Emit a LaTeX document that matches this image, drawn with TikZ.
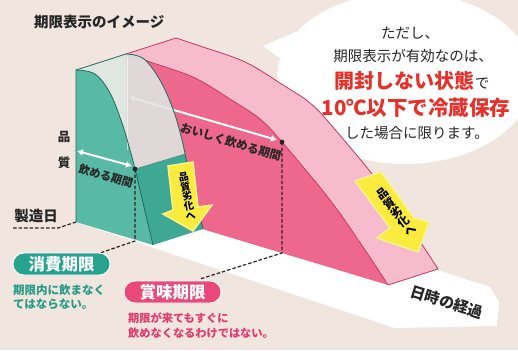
\documentclass[tikz,border=0pt]{standalone}
\usepackage{fontspec}
\newfontfamily\jp{Noto Sans CJK JP}
\usetikzlibrary{arrows.meta}
\newcommand\fsz[1]{\jp\fontsize{#1}{#1}\selectfont}
\definecolor{bg}{RGB}{240,230,223}
\definecolor{tealF}{RGB}{88,186,164}
\definecolor{tealS}{RGB}{62,168,148}
\definecolor{tealD}{RGB}{30,105,92}
\definecolor{tealT}{RGB}{222,231,227}
\definecolor{pinkF}{RGB}{237,104,140}
\definecolor{pinkT}{RGB}{246,188,205}
\definecolor{pinkD}{RGB}{200,55,95}
\definecolor{pillA}{RGB}{38,162,142}
\definecolor{pillB}{RGB}{233,72,122}
\definecolor{yel}{RGB}{249,236,62}
\definecolor{redT}{RGB}{232,48,42}
\definecolor{ink}{RGB}{38,38,38}
\definecolor{tealtxt}{RGB}{40,155,135}
\definecolor{pinktxt}{RGB}{228,58,112}
\begin{document}
\begin{tikzpicture}[x=1pt,y=-1pt,
  txt/.style={inner sep=0pt,text=ink},
  pill/.style={rounded corners=11pt,minimum width=97pt,minimum height=22pt,inner sep=0pt,text=white,font=\fsz{16.5}\bfseries},
  dash line/.style={draw=ink,line width=1.2pt,dash pattern=on 3.5pt off 2pt},
  wharrow/.style={draw=white,line width=2pt,{Latex[length=6pt,width=7pt]}-{Latex[length=6pt,width=7pt]}},
  dotmark/.style={fill=ink}]
\useasboundingbox (0,0) rectangle (518,350);
\fill[bg] (0,0) rectangle (518,350);
% speech bubble
\fill[white] (405,78) ellipse [x radius=128pt, y radius=86pt];
\fill[white] (263,46) -- (312,25) -- (302,74) -- cycle;
% ground strip (time axis)
\fill[white] (76,222) -- (395,328) -- (497,326) -- (499,302) -- (490,287) -- (437,270) -- (126,206) -- cycle;
% pink solid
\fill[pinkF] plot[smooth,tension=0.6] coordinates {(126,54) (150,62) (195,78) (233,101) (260,119) (282,142) (330,200) (363,247) (388,285)} -- (126,206) -- cycle;
\fill[pinkT] (126,54) -- (176,38) -- plot[smooth,tension=0.6] coordinates {(176,38) (200,46) (245,62) (283,85) (310,103) (332,126) (380,184) (413,231) (438,269)} -- (388,285) -- plot[smooth,tension=0.6] coordinates {(388,285) (363,247) (330,200) (282,142) (260,119) (233,101) (195,78) (150,62) (126,54)} -- cycle;
\draw[pinkD,line width=0.8pt] plot[smooth,tension=0.6] coordinates {(126,54) (150,62) (195,78) (233,101) (260,119) (282,142) (330,200) (363,247) (388,285)};
\draw[pinkD,line width=0.8pt] (126,54) -- (176,38) -- plot[smooth,tension=0.6] coordinates {(176,38) (200,46) (245,62) (283,85) (310,103) (332,126) (380,184) (413,231) (438,269)} -- (388,285);
% pink arrow
\coordinate (pa1) at (129,97);
\coordinate (pa2) at (277,140);
\draw[wharrow] (pa1) -- (pa2);
% teal solid
\fill[tealF] plot[smooth,tension=0.6] coordinates {(76,70) (95,74) (110,93) (122,123) (130,150) (135,169) (144,207) (153,245)} -- (76,222) -- cycle;
\fill[tealS] (135,169) -- (144,207) -- (153,245) -- (203,229) -- (194,192) -- (185,154) -- cycle;
\fill[tealT,opacity=0.88] plot[smooth,tension=0.6] coordinates {(76,70) (95,74) (110,93) (122,123) (130,150) (135,169)} -- (185,154) -- plot[smooth,tension=0.6] coordinates {(185,154) (182,140) (174,112) (161,82) (144,59) (126,54)} -- cycle;
\draw[white,opacity=0.6,line width=0.8pt] (127,56) -- (127,150);
\draw[tealD,line width=0.8pt] (76,222) -- (76,70) -- (126,54) plot[smooth,tension=0.6] coordinates {(126,54) (144,59) (161,82) (174,112) (182,140) (185,154)} -- (194,192) -- (203,229);
\draw[tealD,line width=0.8pt] plot[smooth,tension=0.6] coordinates {(76,70) (95,74) (110,93) (122,123) (130,150) (135,169) (144,207) (153,245)};
\draw[tealS!80!black,line width=0.4pt] (135,169) -- (185,154);
% teal arrow
\coordinate (ta1) at (77,151);
\coordinate (ta2) at (132,166);
\draw[wharrow] (ta1) -- (ta2);
% texts on faces
\node[txt,rotate=-16.5,font=\fsz{11.2}\bfseries] (tn1) at (106,176) {飲める期間};
\node[txt,rotate=-16.5,font=\fsz{11.6}\bfseries] (tn2) at (231,142) {おいしく飲める期間};
% yellow arrows
\fill[yel,draw=yel!60!white,line width=1.5pt] (168,166) -- (193,162) -- (198,207) -- (212,205) -- (193,231) -- (163,214) -- (173,210) -- cycle;
\node[txt,rotate=10,align=center,font=\fsz{10}\bfseries,text=black] (y1) at (187,196) {\fontsize{10}{12}\selectfont 品\\質\\劣\\化\\へ};
\fill[yel,draw=yel!60!white,line width=1.5pt] (355,181) -- (381,172) -- (414,218) -- (429,222) -- (418,252) -- (377,238) -- (390,228) -- cycle;
\node[txt,rotate=37,align=center,font=\fsz{11.5}\bfseries,text=black] (y2) at (396,212) {\fontsize{11.5}{14}\selectfont 品\\質\\劣\\化\\へ};
% dots and dashed lines
\coordinate (d1) at (135,169);
\coordinate (d1b) at (135,241);
\coordinate (e1) at (100,253);
\coordinate (d2) at (282,142);
\coordinate (d2b) at (282,253);
\coordinate (e2) at (200,279);
\coordinate (m0) at (76,222);
\coordinate (m1) at (58,228);
\coordinate (m2) at (13,228);
\draw[dash line] (d1) -- (d1b) -- (e1);
\draw[dash line] (d2) -- (d2b) -- (e2);
\draw[dash line] (m2) -- (m1) -- (m0);
\fill[dotmark] (d1) circle (2.4pt);
\fill[dotmark] (d2) circle (2.4pt);
% axis labels
\node[txt,rotate=-17,font=\fsz{15}\bfseries] (time) at (447,302) {日時の経過};
\node[txt,font=\fsz{12.5}\bfseries] (q1) at (64,137) {品};
\node[txt,font=\fsz{12.5}\bfseries] (q2) at (64,163) {質};
\node[txt,font=\fsz{14.5}\bfseries] (mfg) at (36,216) {製造日};
% title
\node[txt,anchor=west,font=\fsz{14.5}\bfseries] (title) at (34,22) {期限表示のイメージ};
% bubble text
\node[txt,font=\fsz{14.5}] (b1) at (410,33) {ただし、};
\node[txt,font=\fsz{14.5}] (b2) at (413,56) {期限表示が有効なのは、};
\node[txt,font=\fsz{14.5}] (b3) at (412,81) {{\color{redT}\fontsize{20}{20}\selectfont\bfseries 開封しない状態}で};
\node[txt,font=\fsz{20.5}\bfseries,text=redT] (b4) at (416,108) {10℃以下で冷蔵保存};
\node[txt,font=\fsz{14.5}] (b5) at (417,133) {した場合に限ります。};
% labels
\node[pill,fill=pillA,draw=white,line width=0.8pt] (L1) at (61.5,264) {消費期限};
\node[pill,fill=pillB,draw=white,line width=0.8pt] (L2) at (172.5,292) {賞味期限};
\node[txt,anchor=west,font=\fsz{11.5}\bfseries,text=tealtxt] (t1a) at (13,290) {期限内に飲まなく};
\node[txt,anchor=west,font=\fsz{11.5}\bfseries,text=tealtxt] (t1b) at (13,304) {てはならない。};
\node[txt,anchor=west,font=\fsz{11.2}\bfseries,text=pinktxt] (t2a) at (128,318) {期限が来てもすぐに};
\node[txt,anchor=west,font=\fsz{11.2}\bfseries,text=pinktxt] (t2b) at (128,333) {飲めなくなるわけではない。};
\end{tikzpicture}
\end{document}
